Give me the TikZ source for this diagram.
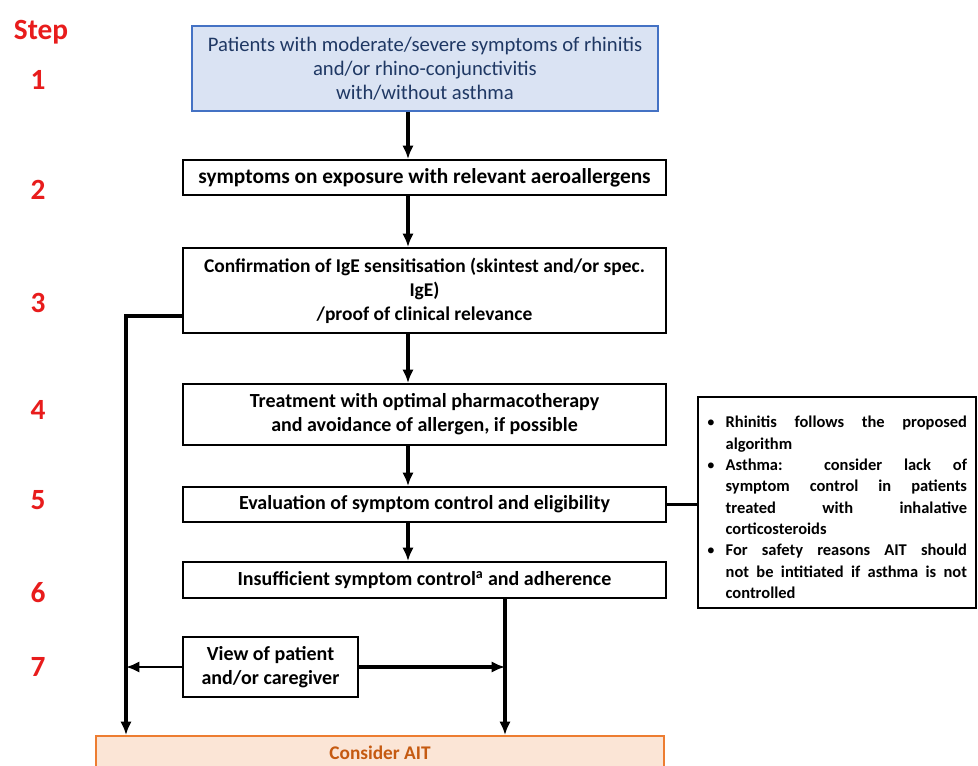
\documentclass[tikz,border=0pt]{standalone}
\usepackage{fontspec}
\setmainfont{Carlito}
\usepackage{enumitem}
\usetikzlibrary{arrows.meta,positioning}

\definecolor{boxblue}{RGB}{218,227,243}
\definecolor{lineblue}{RGB}{68,114,196}
\definecolor{navy}{RGB}{31,56,100}
\definecolor{stepred}{RGB}{232,28,28}
\definecolor{aitfill}{RGB}{251,229,214}
\definecolor{aitline}{RGB}{237,125,49}
\definecolor{aittext}{RGB}{197,90,17}

\begin{document}
\begin{tikzpicture}[x=0.75pt,y=-0.75pt,
  box/.style={draw,line width=1.4pt,align=center,minimum width=362.25pt,
              inner sep=2pt,font=\bfseries\fontsize{15}{18}\selectfont},
  steplbl/.style={text=stepred,font=\bfseries\fontsize{22}{24}\selectfont},
  arrow/.style={-{Latex[length=10pt,width=8.5pt]},line width=2.6pt},
  link/.style={line width=2.6pt}
]
\useasboundingbox (0,0) rectangle (978,765);
% step numbers
\node[steplbl] (step) at (41,32) {Step};
\node[steplbl] (s1) at (38,80) {1};
\node[steplbl] (s2) at (38,190) {2};
\node[steplbl] (s3) at (38,303) {3};
\node[steplbl] (s4) at (38,410) {4};
\node[steplbl] (s5) at (38,500) {5};
\node[steplbl] (s6) at (38,593) {6};
\node[steplbl] (s7) at (38,667) {7};
% main chain
\node[box,draw=lineblue,fill=boxblue,text=navy,font=\fontsize{15.5}{18}\selectfont,
      minimum width=349.5pt,minimum height=63.75pt] (patients) at (425,68.5)
  {Patients with moderate/severe symptoms of rhinitis\\and/or rhino-conjunctivitis\\with/without asthma};
\node[box,minimum height=26.25pt,font=\bfseries\fontsize{16}{18}\selectfont] (expo) at (424.5,177.5)
  {symptoms on exposure with relevant aeroallergens};
\node[box,minimum height=63.75pt,font=\bfseries\fontsize{14.6}{18}\selectfont] (confirm) at (424.5,290.5)
  {Confirmation of IgE sensitisation (skintest and/or spec.\\IgE)\\/proof of clinical relevance};
\node[box,minimum height=45.75pt] (treat) at (424.5,414.5)
  {Treatment with optimal pharmacotherapy\\and avoidance of allergen, if possible};
\node[box,minimum height=26.25pt] (eval) at (424.5,504.5)
  {Evaluation of symptom control and eligibility};
\node[box,minimum height=27pt] (insuff) at (424.5,580)
  {Insufficient symptom control\textsuperscript{a} and adherence};
\node[box,minimum width=131.25pt,minimum height=45pt] (view) at (270.5,667)
  {View of patient\\and/or caregiver};
\node[draw=aitline,fill=aitfill,text=aittext,line width=1.4pt,anchor=north,
      minimum width=426pt,minimum height=26pt,font=\bfseries\fontsize{14.5}{16}\selectfont]
  (ait) at (380,735) {Consider AIT};
% notes
\node[draw,line width=1.4pt,text width=195pt,inner xsep=7pt,minimum height=158.25pt,
      align=justify,font=\bfseries\fontsize{12.35}{16}\selectfont] (notes) at (837,502.5)
  {\begin{itemize}[nosep,leftmargin=14pt,labelsep=8pt]
   \item Rhinitis follows the proposed\linebreak algorithm
   \item Asthma: consider lack of\linebreak symptom control in patients\linebreak treated with inhalative\linebreak corticosteroids
   \item For safety reasons AIT should\linebreak not be intitiated if asthma is not\linebreak controlled
   \end{itemize}};
\coordinate (lft) at (126,316);
\coordinate (mid) at (408,0);
\coordinate (rgt) at (505,598);
% connectors
\draw[arrow] (patients.south -| mid) -- (expo.north -| mid);
\draw[arrow] (expo.south -| mid) -- (confirm.north -| mid);
\draw[arrow] (confirm.south -| mid) -- (treat.north -| mid);
\draw[arrow] (treat.south -| mid) -- (eval.north -| mid);
\draw[arrow] (eval.south -| mid) -- (insuff.north -| mid);
\draw[arrow] (confirm.west |- lft) -- (lft) -- (lft |- ait.north);
\draw[arrow] (insuff.south -| rgt) -- (rgt |- ait.north);
\draw[arrow,line width=2pt] (view.west) -- (view.west -| lft);
\draw[arrow] (view.east) -- (view.east -| rgt);
\draw[link] (eval.east) -- (notes.west |- eval.east);
\end{tikzpicture}
\end{document}
